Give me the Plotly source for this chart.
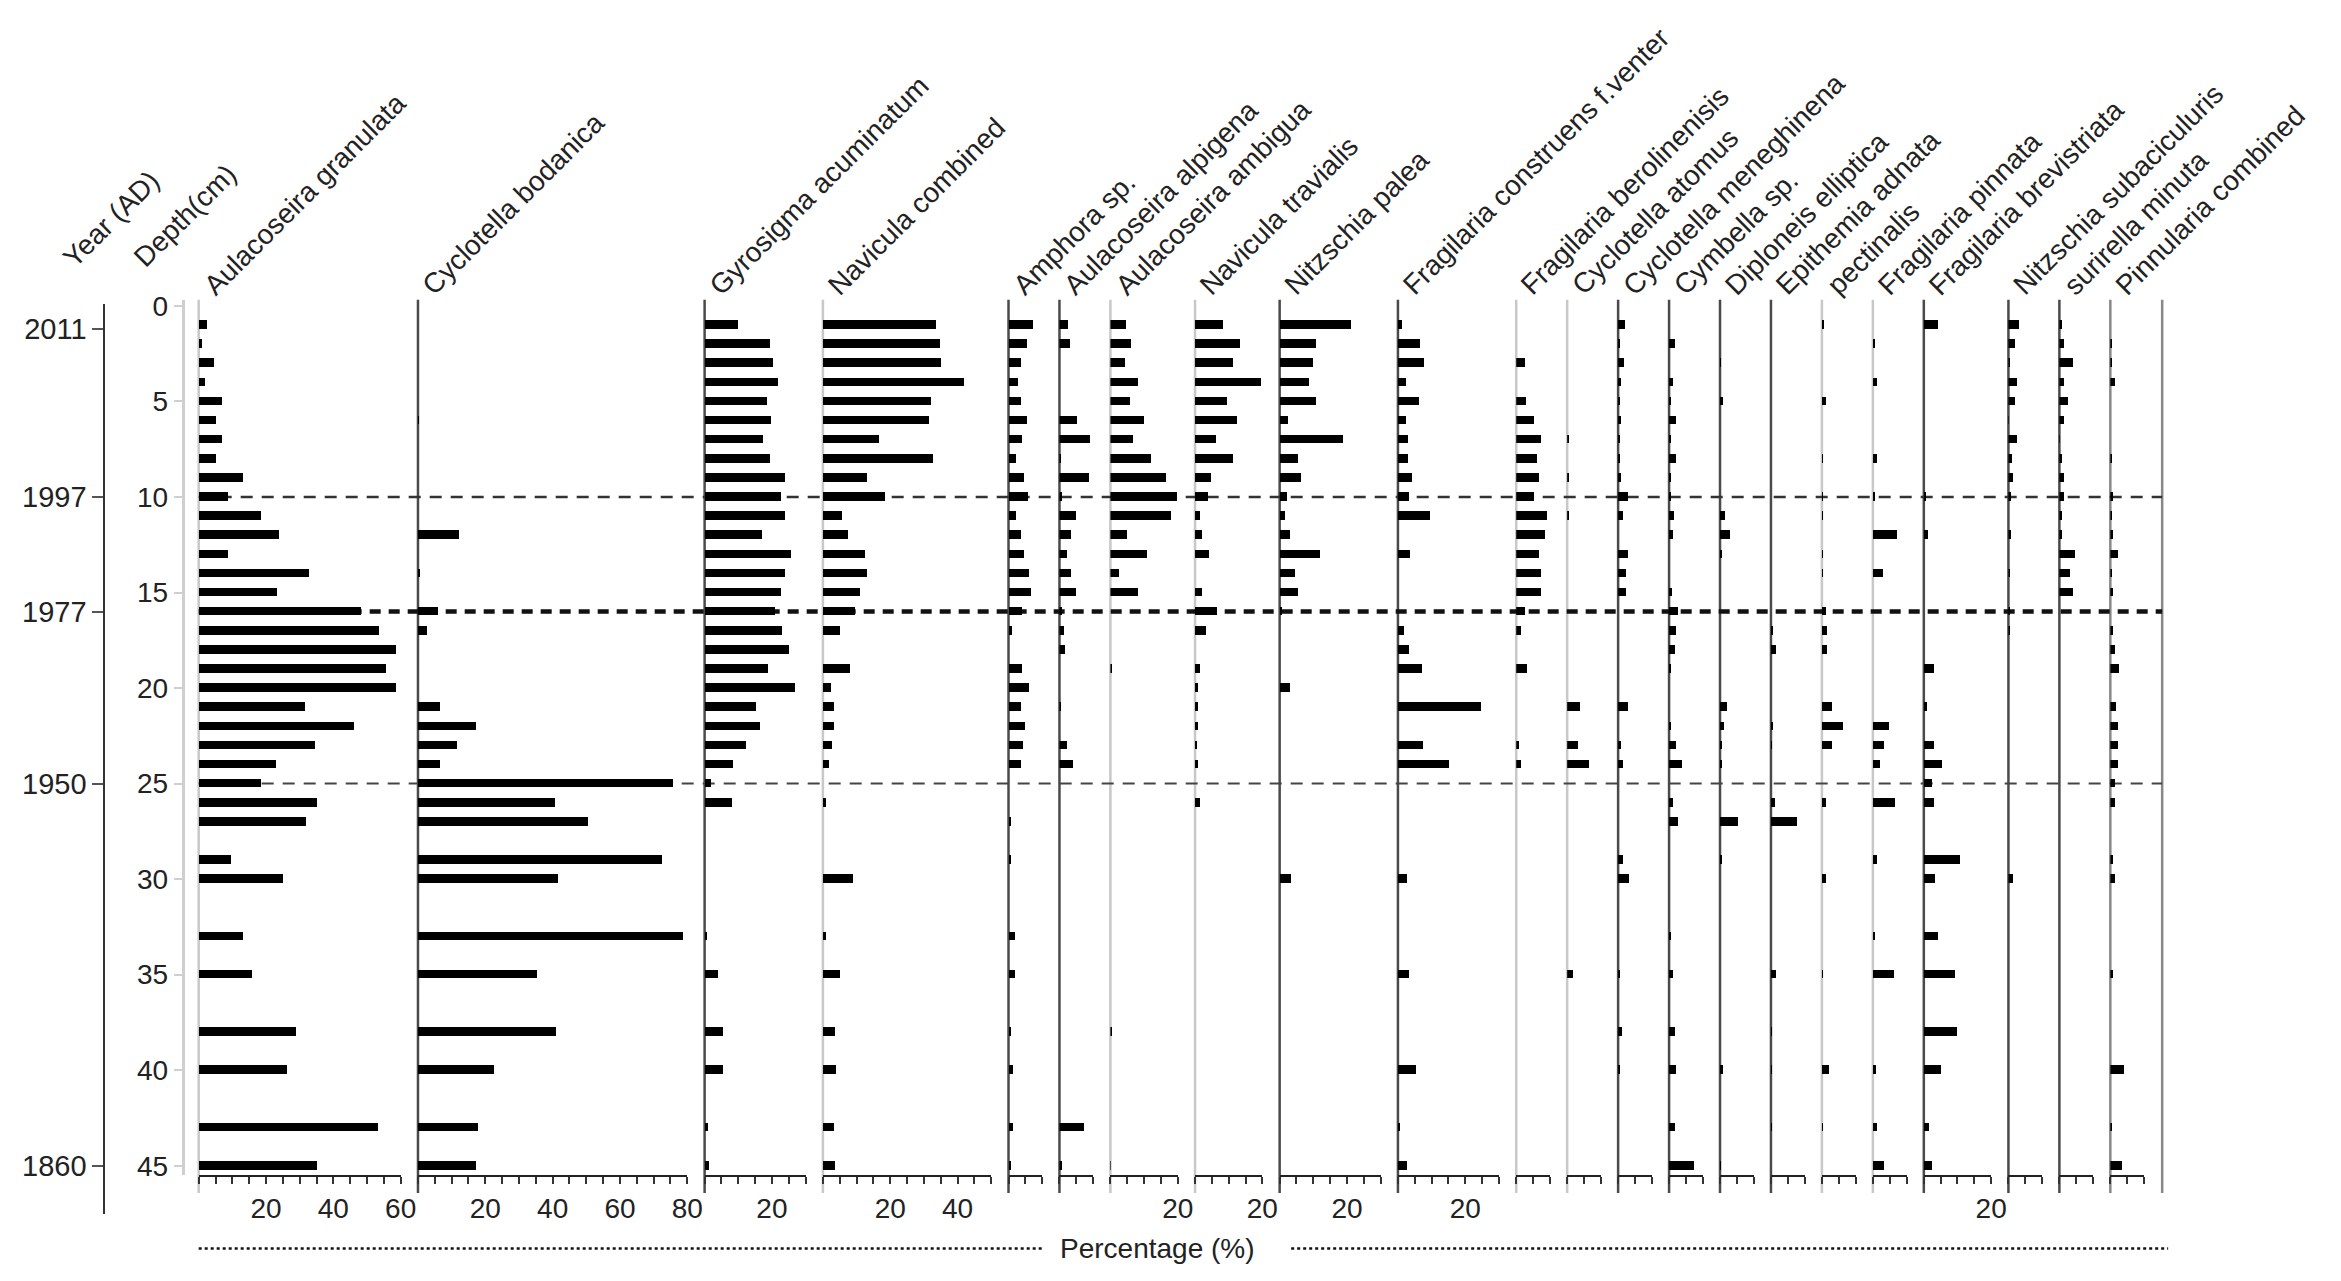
import plotly.graph_objects as go

W, H = 2341, 1281

# sample depths (cm)
depths = list(range(1, 28)) + [29, 30, 33, 35, 38, 40, 43, 45]

taxa = ["Aulacoseira granulata", "Cyclotella bodanica", "Gyrosigma acuminatum", "Navicula combined",
        "Amphora sp.", "Aulacoseira alpigena", "Aulacoseira ambigua", "Navicula travialis",
        "Nitzschia palea", "Fragilaria construens f.venter", "Fragilaria berolinenisis",
        "Cyclotella atomus", "Cyclotella meneghinena", "Cymbella sp.", "Diploneis elliptica",
        "Epithemia adnata", "pectinalis", "Fragilaria pinnata", "Fragilaria brevistriata",
        "Nitzschia subaciculuris", "surirella minuta", "Pinnularia combined"]

# x-axis maximum (%) of each panel
panel_max = [60, 80, 30, 50, 10, 10, 20, 20, 30, 30, 10, 10, 10, 10, 10, 10, 10, 10, 20, 10, 10, 10]

# percentages per taxon, one value per depth
aul_granulata = [2.3, 1, 4.5, 1.8, 6.9, 5.1, 6.8, 5.1, 13, 8.7, 18.3, 23.8, 8.7, 32.8, 23.3, 48.1, 53.4, 58.6,
                 55.5, 58.6, 31.6, 46, 34.6, 22.9, 18.3, 34.9, 31.7, 9.5, 24.8, 13.1, 15.8, 28.9, 26.2, 53.1, 34.9]
cyc_bodanica = [0, 0, 0, 0, 0, 0.2, 0, 0, 0, 0, 0, 12.3, 0, 0.6, 0, 6, 2.7, 0, 0, 0, 6.6, 17.3, 11.7, 6.6,
                75.6, 40.6, 50.4, 72.5, 41.5, 78.6, 35.3, 40.9, 22.6, 17.7, 17.3]
gyr_acuminatum = [9.7, 19.2, 20.3, 21.8, 18.5, 19.7, 17.3, 19.2, 23.8, 22.6, 23.8, 17, 25.6, 23.8, 22.6, 20.8,
                  23, 24.8, 18.8, 26.8, 15.2, 16.2, 12.1, 8.3, 1.8, 7.9, 0, 0, 0, 0.6, 3.9, 5.2, 5.3, 0.8, 1.2]
nav_combined = [33.5, 34.8, 35.1, 41.9, 32.1, 31.5, 16.6, 32.8, 13.2, 18.5, 5.7, 7.5, 12.6, 13.2, 10.9, 9.5,
                4.9, 0, 8, 2.5, 3.3, 3.4, 2.8, 1.8, 0, 0.8, 0, 0, 8.9, 0.8, 5.1, 3.7, 3.8, 3.4, 3.5]
amphora = [7.1, 5.4, 3.5, 2.8, 3.5, 5.4, 4.0, 2.2, 4.6, 5.6, 2.1, 3.7, 4.6, 6.0, 6.4, 3.9, 1.0, 0, 4.0, 6.0,
           3.5, 4.7, 4.3, 3.5, 0, 0, 0.7, 0.7, 0, 1.7, 1.7, 0.5, 1.2, 1.3, 0.7]
aul_alpigena = [2.6, 3.3, 0, 0, 0, 5.2, 9.3, 0.5, 8.8, 0.8, 5.0, 3.6, 2.3, 3.6, 5.1, 0.8, 1.6, 1.9, 0, 0, 0.6,
                0, 2.3, 4.2, 0, 0, 0, 0, 0, 0, 0, 0, 0, 7.5, 0.8]
aul_ambigua = [4.7, 6.2, 4.5, 8.2, 5.9, 10.1, 6.8, 12.1, 16.6, 20, 18, 4.9, 10.9, 2.8, 8.2, 0, 0, 0, 0.5, 0,
               0, 0, 0, 0, 0, 0, 0, 0, 0, 0, 0, 0.5, 0, 0, 0.2]
nav_travialis = [8.2, 13.4, 11.4, 19.5, 9.4, 12.6, 6.3, 11.2, 4.7, 4.0, 1.4, 2.1, 4.3, 0, 2.1, 6.4, 3.3, 0,
                 1.6, 1.0, 0.8, 0.8, 0.6, 0.8, 0, 1.4, 0, 0, 0, 0, 0, 0, 0, 0, 0]
nit_palea = [21.1, 10.7, 9.8, 8.7, 10.6, 2.5, 18.7, 5.4, 6.2, 2.1, 1.5, 2.9, 11.8, 4.4, 5.2, 0.5, 0, 0, 0,
             2.9, 0, 0, 0, 0, 0, 0, 0, 0, 3.2, 0, 0, 0, 0, 0, 0]
fra_construens = [1.2, 6.4, 7.7, 2.5, 6.2, 2.3, 2.9, 2.9, 4.1, 3.2, 9.6, 0, 3.7, 0, 0, 0, 1.7, 3.4, 7.1, 0,
                  24.6, 0, 7.3, 15, 0, 0, 0, 0, 2.8, 0, 3.4, 0, 5.2, 0.5, 2.7]
fra_berolinensis = [0, 0, 2.6, 0, 2.9, 5.4, 7.4, 6.3, 6.7, 5.4, 9.1, 8.7, 6.8, 7.3, 7.5, 2.8, 1.6, 0, 3.2, 0,
                    0, 0, 0.8, 1.6, 0, 0, 0, 0, 0, 0, 0, 0, 0, 0, 0]
cyc_atomus = [0, 0, 0, 0, 0, 0, 0.5, 0, 0.3, 0, 0.5, 0, 0, 0, 0, 0, 0, 0, 0, 0, 3.9, 0, 3.4, 6.4, 0, 0, 0,
              0, 0, 0, 1.8, 0, 0, 0, 0]
cyc_meneghiniana = [2.0, 0.3, 1.7, 1.0, 0.3, 1.0, 0.3, 0.3, 1.0, 3.1, 1.5, 0, 2.9, 2.5, 2.5, 0, 0, 0, 0, 0,
                    2.9, 0, 1.0, 1.5, 0, 0, 0, 1.5, 3.4, 0, 0.5, 1.2, 0.3, 0, 0]
cymbella = [0, 1.8, 0, 1.3, 0.3, 2.0, 0.6, 2.0, 0.3, 0.6, 1.5, 1.3, 0, 0, 0.8, 2.8, 2.0, 1.8, 0.6, 0, 0, 0.6,
            2.2, 3.9, 0, 1.3, 2.6, 0, 0, 0.3, 1.3, 1.8, 2.0, 1.8, 7.4]
dip_elliptica = [0, 0, 0.2, 0, 0.8, 0, 0, 0, 0, 0, 1.5, 2.9, 0.3, 0, 0, 0, 0, 0, 0, 0, 2.0, 1.3, 0.5, 0.3, 0,
                 0, 5.4, 0.5, 0, 0, 0, 0, 0.8, 0, 0.2]
epi_adnata = [0, 0, 0, 0, 0, 0, 0, 0, 0, 0, 0, 0, 0, 0, 0, 0, 0.7, 1.5, 0, 0, 0, 0.5, 0.2, 0, 0, 1.2, 7.6,
              0, 0, 0, 1.5, 0.2, 0.2, 0.2, 0]
pectinalis = [0.3, 0, 0, 0, 1.2, 0, 0, 0.2, 0, 0.2, 0.2, 0, 0.2, 0.2, 0, 1.2, 1.5, 1.5, 0, 0, 2.9, 6.1, 2.9,
              0, 0, 1.2, 0, 0, 1.2, 0, 0.2, 0, 2.0, 0.2, 0]
fra_pinnata = [0, 0.6, 0, 1.1, 0, 0, 0, 1.1, 0, 0.6, 0, 7.2, 0, 2.9, 0, 0, 0, 0, 0, 0, 0, 4.7, 3.3, 2.1, 0,
               6.5, 0, 1.2, 0, 0.6, 6.2, 0, 0.8, 1.1, 3.3]
fra_brevistriata = [4.2, 0, 0, 0, 0, 0, 0, 0, 0, 0.3, 0, 1.3, 0, 0, 0, 0, 0, 0, 2.9, 0, 0.8, 0, 2.9, 5.4,
                    2.3, 3.0, 0, 10.6, 3.2, 4.2, 9.1, 9.9, 4.9, 1.5, 2.3]
nit_subaciculuris = [3.4, 2.0, 0.5, 2.7, 2.2, 0.2, 2.8, 1.3, 1.5, 1.0, 0, 0.8, 0, 0.6, 0, 0.6, 0.6, 0, 0, 0,
                     0, 0, 0, 0, 0, 0, 0, 0, 1.5, 0, 0, 0, 0, 0, 0]
sur_minuta = [0.9, 1.4, 4.2, 1.4, 2.8, 1.6, 0.2, 0.8, 1.4, 1.4, 0.8, 0.8, 4.7, 3.3, 4.2, 0, 0, 0, 0, 0, 0, 0,
              0, 0, 0, 0, 0, 0, 0, 0, 0, 0, 0, 0, 0]
pinnularia = [0, 0.6, 0.4, 1.5, 0, 0, 0, 0.3, 0, 1.0, 0.4, 0.8, 2.5, 0.6, 0.8, 0, 1.0, 1.5, 2.8, 0, 1.8, 2.5,
              2.5, 2.5, 1.6, 1.5, 0, 0.8, 1.5, 0, 0.8, 0, 4.2, 0.3, 3.7]

series = [aul_granulata, cyc_bodanica, gyr_acuminatum, nav_combined, amphora, aul_alpigena, aul_ambigua,
          nav_travialis, nit_palea, fra_construens, fra_berolinensis, cyc_atomus, cyc_meneghiniana, cymbella,
          dip_elliptica, epi_adnata, pectinalis, fra_pinnata, fra_brevistriata, nit_subaciculuris, sur_minuta,
          pinnularia]

depth_ticks = list(range(0, 46, 5))
year_depths = [1.2, 10, 16, 25, 45]
year_labels = ["2011", "1997", "1977", "1950", "1860"]
zone_depths = [10, 16, 25]

# style: colour of each panel's vertical line (scanned figure has light and dark ones)
LIGHT, DARK = "#c8c8c8", "#4a4a4a"
line_cols = [LIGHT, DARK, DARK, LIGHT, DARK, DARK, LIGHT, LIGHT, DARK, DARK, LIGHT, LIGHT, DARK, DARK, DARK,
             DARK, LIGHT, LIGHT, DARK, DARK, DARK, "#888888"]

FONT = "Liberation Sans, Arial, sans-serif"
FS = 28
TXT = "#222222"


def px(x):
    return x / W


def py(y):
    return 1 - y / H


# pixel geometry of the panels
x_start, unit, gap = 192, 3.39, 17.4
top_px, bot_px = 302, 1172          # depth 0.5 and 45.5
px_per_cm = (bot_px - top_px) / 45
y_rng = [45.5, 0.5]

fig = go.Figure()
layout = dict(
    width=W, height=H, margin=dict(l=0, r=0, t=0, b=0),
    paper_bgcolor="white", plot_bgcolor="rgba(0,0,0,0)",
    showlegend=False, bargap=0,
    font=dict(family=FONT, size=FS, color=TXT),
    yaxis=dict(domain=[py(bot_px), py(top_px)], range=y_rng, visible=False),
)
shapes, annotations = [], []

n = len(taxa)
x = x_start
for i in range(n):
    k = i + 1
    r = panel_max[i]
    x0, x1 = x, x + r * unit
    ax = "x" if k == 1 else f"x{k}"
    fig.add_trace(go.Bar(
        x=series[i], y=depths, orientation="h", width=0.45, base=0,
        marker=dict(color="black", line=dict(width=0)),
        xaxis=ax, yaxis="y", name=taxa[i], hoverinfo="x+y",
    ))
    tv = list(range(0, r + 1, 5))
    tt = [str(v) if v and v % 20 == 0 else "" for v in tv]
    layout["xaxis" if k == 1 else f"xaxis{k}"] = dict(
        domain=[px(x0), px(x1)], range=[0, r], anchor="y",
        showgrid=False, zeroline=False, showline=True, linecolor="#222", linewidth=2,
        ticks="outside", ticklen=7, tickwidth=1.5, tickcolor="#333",
        tickvals=tv, ticktext=tt, tickfont=dict(size=FS, color=TXT),
    )
    # light top axis with small inward ticks
    layout[f"xaxis{n + k}"] = dict(
        domain=[px(x0), px(x1)], range=[0, r], anchor="y", overlaying=ax, side="top",
        showgrid=False, zeroline=False, showline=True, linecolor="#a0a0a0", linewidth=1.5,
        ticks="inside", ticklen=5, tickwidth=1, tickcolor="#a0a0a0",
        tickvals=tv, showticklabels=False,
    )
    shapes.append(dict(type="line", xref="paper", yref="paper", x0=px(x0), x1=px(x0),
                       y0=py(286), y1=py(1190), line=dict(color=line_cols[i], width=2.5), layer="below"))
    annotations.append(dict(text=taxa[i], x=px(x0 - 4), y=py(290), xref="paper", yref="paper",
                            xanchor="left", yanchor="bottom", textangle=-45, showarrow=False,
                            font=dict(size=FS, color=TXT)))
    x = x1 + gap

right_edge = 2169
shapes.append(dict(type="line", xref="paper", yref="paper", x0=px(right_edge), x1=px(right_edge),
                   y0=py(286), y1=py(1190), line=dict(color="#888888", width=2.5), layer="below"))

# zone boundaries
zone_styles = [dict(color="#333", width=2.5, dash="12px,9px"),
               dict(color="#111", width=4.5, dash="11px,8px"),
               dict(color="#444", width=2, dash="12px,9px")]
for d, st in zip(zone_depths, zone_styles):
    shapes.append(dict(type="line", xref="paper", yref="y", x0=px(x_start), x1=px(right_edge),
                       y0=d, y1=d, line=st, layer="below"))

# depth axis
layout["yaxis2"] = dict(
    anchor="free", position=px(176), side="left",
    domain=[py(bot_px), py(286)], range=[45.5, 0.5 - (top_px - 286) / px_per_cm],
    showgrid=False, zeroline=False, showline=True, linecolor="#cfcfcf", linewidth=3,
    ticks="outside", ticklen=8, tickwidth=2, tickcolor="#cfcfcf",
    tickvals=depth_ticks, tickfont=dict(size=FS, color=TXT),
)
# year axis
layout["yaxis3"] = dict(
    anchor="free", position=px(97), side="left",
    domain=[py(1211), py(290)],
    range=[45.5 + (1211 - bot_px) / px_per_cm, 0.5 - (top_px - 290) / px_per_cm],
    showgrid=False, zeroline=False, showline=True, linecolor="#333", linewidth=2,
    ticks="outside", ticklen=11, tickwidth=2, tickcolor="#555",
    tickvals=year_depths, ticktext=year_labels, tickfont=dict(size=29, color=TXT),
)
for ya in ["y2", "y3"]:
    fig.add_trace(go.Scatter(x=[None], y=[None], xaxis="x", yaxis=ya, showlegend=False, hoverinfo="skip"))

annotations.append(dict(text="Year (AD)", x=px(46), y=py(262), xref="paper", yref="paper",
                        xanchor="left", yanchor="bottom", textangle=-45, showarrow=False))
annotations.append(dict(text="Depth(cm)", x=px(118), y=py(262), xref="paper", yref="paper",
                        xanchor="left", yanchor="bottom", textangle=-45, showarrow=False))

# percentage label with dotted leaders
annotations.append(dict(text="Percentage (%)", x=px(1157), y=py(1246), xref="paper", yref="paper",
                        xanchor="center", yanchor="middle", showarrow=False))
for a, b in [(x_start, 1042), (1292, 2175)]:
    shapes.append(dict(type="line", xref="paper", yref="paper", x0=px(a), x1=px(b), y0=py(1246), y1=py(1246),
                       line=dict(color="#111", width=2.5, dash="dot")))

layout["shapes"] = shapes
layout["annotations"] = annotations
fig.update_layout(**layout)

fig.write_html("out.html")
